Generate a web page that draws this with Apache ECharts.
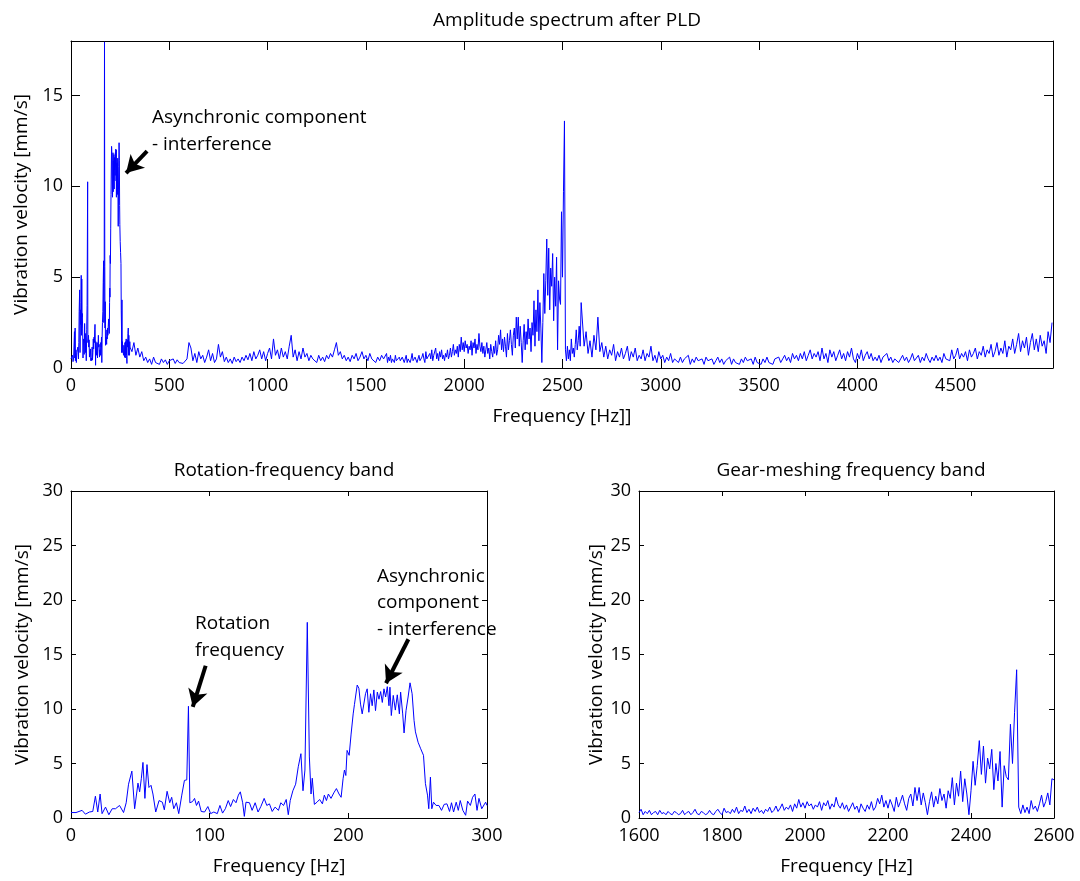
<!DOCTYPE html>
<html>
<head>
<meta charset="utf-8">
<script src="https://cdn.jsdelivr.net/npm/echarts@6/dist/echarts.min.js"></script>
<style>html,body{margin:0;padding:0;background:#fff}#c{width:1080px;height:881px}</style>
</head>
<body>
<div id="c"></div>
<script>
// ---- Data: rotation-frequency band (0-300 Hz), explicit frequencies ----
const rotHz = [0,3.6,8,10.4,13.3,15.7,17.6,19.3,21,22.4,24.9,27.3,29.7,32.1,35,37.9,39.8,41.5,43.9,45.9,48.3,49.5,50.7,51.9,53.3,54.8,56.2,57.7,59.1,61.1,63.5,65.9,67.3,69.3,71.2,72.6,74.1,76,77.7,79.9,81.8,83.5,84.7,85.7,87.6,89.1,90.5,92,93.9,96.3,98.7,100.7,103,105.5,107.4,109.3,111.3,113.4,115.1,117.1,119,120.7,122.1,123.8,125,126.2,128.7,130.6,132.8,134.9,136.9,139.3,141.2,143.1,145.1,147.2,149.6,151.3,153.3,155.2,156.7,158.1,160,162,163.9,165.8,167.3,168.7,170.4,171.9,173.1,174,175.5,177.4,179.3,181.3,182.7,184.2,185.6,187.5,189.5,191.4,193.3,194.8,196.2,197.2,198.2,199.1,200.6,202,203.5,204.4,205.4,206.4,207.6,208.8,210,211.2,212.4,213.6,214.8,216,217.2,218.4,219.6,220.9,222.1,223.3,224.5,225.7,226.9,228.1,229.3,230,231,232.4,233.9,235.3,236.8,237.7,239.2,240.2,241.6,243.1,244.5,246,247.4,248.4,250.3,252.2,254.2,255.6,257.1,258,259.2,260.2,261.4,263.3,265.3,267.2,269.1,271.1,273,274.4,275.9,277.8,279.3,280.7,282.6,284.6,286,288,289.6,291.3,292.8,294.2,296.2,297.6,299,300];
const rotAmp = [0.5,0.5,0.7,0.35,0.55,0.6,2.0,0.55,2.2,0.4,1.0,0.3,0.85,0.85,1.15,0.5,1.4,3.1,4.3,0.85,3.2,2.4,3.6,5.1,1.8,4.9,2.8,3.0,2.2,0.55,1.6,1.45,0.75,2.45,1.4,1.9,0.85,1.4,0.4,2.1,3.45,3.5,10.25,1.4,1.5,1.8,1.15,1.55,0.6,0.55,1.05,0.4,0.55,0.4,1.15,0.45,0.85,1.6,1.05,1.7,1.4,2.1,2.4,1.4,0.15,1.45,1.4,0.7,1.4,0.55,1.05,1.8,1.15,1.3,0.6,1.0,0.7,1.4,1.15,1.7,0.3,1.6,2.5,3.1,4.7,5.9,2.5,4.4,17.95,5.6,2.2,3.65,1.25,1.45,1.7,1.3,2.1,1.6,2.2,1.8,2.3,2.7,2.2,1.9,3.6,4.4,3.9,6.2,5.75,7.7,9.55,10.4,10.4,12.2,11.9,10.45,9.55,9.4,11.4,11.85,9.7,11.4,10.3,11.75,9.85,11.55,10.9,11.6,10.6,11.85,11.1,12.05,10.3,12.0,9.4,11.25,9.9,11.3,9.55,11.55,9.55,7.8,9.85,11.1,12.4,11.4,8.95,7.9,6.95,6.35,5.75,3.15,2.1,0.85,3.75,0.85,1.45,1.15,1.15,0.7,1.25,1.3,0.6,1.4,0.55,1.45,0.7,1.6,0.7,0.25,1.55,1.15,1.9,2.2,0.7,1.8,0.85,0.7,1.45,1.15];

// ---- 310-1590 Hz, 10 Hz spacing ----
const midStartHz = 310, midStepHz = 10;
const midAmp = [0.9,1.4,0.7,1.1,0.6,0.9,0.4,0.6,0.3,
0.5,0.2,0.6,0.3,0.4,0.2,0.5,0.3,0.45,0.2,
0.4,0.3,0.5,0.25,0.45,0.3,0.4,0.25,0.35,0.5,
1.4,1.1,0.4,0.8,0.3,0.9,0.5,0.7,0.3,0.6,
1.0,0.4,0.8,0.3,0.5,1.3,0.6,0.9,0.35,0.6,
0.3,0.5,0.25,0.6,0.35,0.5,0.3,0.6,0.4,0.7,
0.45,0.8,0.4,0.9,0.5,0.7,1.0,0.5,0.9,0.4,
0.8,1.1,0.5,1.6,0.7,1.0,0.5,1.1,0.6,0.9,
0.5,1.2,1.8,0.6,1.0,0.4,0.9,0.5,1.1,0.6,
0.8,0.4,0.7,0.5,0.6,0.3,0.7,0.4,0.6,0.35,
0.7,0.5,0.8,0.6,1.0,1.4,0.7,0.9,0.5,0.7,
0.4,0.6,0.35,0.7,0.5,0.8,0.4,0.6,0.9,0.5,
0.7,0.4,0.8,0.5,0.6,0.3,0.6,0.4,0.7,0.5];

// ---- gear-meshing band 1600-2595 Hz, 5 Hz spacing ----
const meshStartHz = 1600, meshStepHz = 5;
const meshAmp = [
0.5,0.8,0.3,0.6,0.4,0.7,0.3,0.5,0.6,0.3,0.7,0.4,0.5,0.3,0.6,0.4,0.3,0.6,0.5,0.3,
0.4,0.7,0.3,0.5,0.6,0.3,0.5,0.8,0.4,0.3,0.6,0.5,0.3,0.4,0.7,0.4,0.3,0.6,0.8,0.5,
0.3,0.9,0.5,0.6,0.4,0.8,0.5,1.0,0.4,0.7,0.6,1.1,0.5,0.8,0.4,0.9,0.6,1.0,0.5,0.7,
0.4,0.8,0.6,1.0,0.5,0.7,1.1,0.6,0.9,1.3,0.7,1.0,0.8,1.2,0.6,1.3,0.9,1.7,1.0,1.4,
0.9,1.5,1.1,1.3,0.8,1.2,1.0,1.5,0.7,1.4,1.1,1.6,0.8,1.3,1.0,1.9,1.2,0.9,1.4,0.8,
1.2,0.6,1.0,1.4,0.8,1.1,0.5,1.3,0.9,0.6,1.2,0.8,1.5,0.7,1.0,1.8,1.3,2.1,1.0,1.6,
0.9,1.7,1.2,0.6,1.9,1.0,1.5,2.1,1.3,0.7,1.8,2.2,1.1,2.8,1.6,2.8,1.2,2.3,1.4,0.3,
1.5,2.4,1.0,2.0,1.3,2.7,1.6,2.2,0.9,2.5,1.8,3.7,1.2,3.2,2.0,4.3,1.5,3.6,2.2,0.3,
2.5,5.2,3.0,4.8,7.1,4.0,6.6,3.2,5.5,4.5,6.3,2.6,5.0,3.4,6.1,1.0,4.8,3.8,3.5,8.6,
5.0,9.7,13.6,1.0,0.4,1.2,0.5,1.0,0.4,1.6,0.8,1.1,0.6,1.3,2.1,1.0,1.5,2.3,1.2,3.6];

// ---- 2600-4990 Hz, 10 Hz spacing ----
const highStartHz = 2600, highStepHz = 10;
const highAmp = [
3.5,1.2,2.0,0.8,1.5,0.6,1.8,1.0,2.8,0.9,
1.4,0.6,1.2,0.5,1.0,0.7,1.3,0.4,0.9,0.6,
1.1,0.5,0.8,1.2,0.4,0.9,0.6,1.1,0.4,0.7,
0.5,1.0,0.4,0.8,0.6,1.2,0.4,0.7,0.3,0.9,
0.5,0.7,0.3,0.6,0.4,0.8,0.3,0.5,0.6,0.3,
0.6,0.3,0.5,0.4,0.7,0.2,0.5,0.3,0.6,0.4,
0.3,0.5,0.2,0.6,0.4,0.3,0.5,0.2,0.4,0.6,
0.3,0.5,0.2,0.4,0.3,0.6,0.2,0.5,0.3,0.4,
0.2,0.5,0.3,0.6,0.4,0.3,0.5,0.2,0.6,0.3,
0.4,0.2,0.5,0.3,0.6,0.3,0.4,0.2,0.5,0.4,
0.6,0.3,0.5,0.7,0.4,0.6,0.3,0.8,0.5,0.7,
0.4,0.8,0.5,0.9,0.4,0.7,1.0,0.5,0.8,0.6,
0.9,0.4,1.1,0.5,0.8,0.3,1.0,0.6,0.9,0.4,
0.7,1.0,0.5,0.8,0.4,0.9,0.6,1.1,0.5,0.3,
0.8,0.5,1.0,0.4,0.7,0.9,0.5,0.8,0.4,0.6,
0.4,0.7,0.3,0.6,0.5,0.8,0.4,0.6,0.3,0.5,
0.6,0.3,0.5,0.7,0.4,0.6,0.3,0.5,0.8,0.4,
0.5,0.7,0.3,0.6,0.4,0.8,0.5,0.3,0.6,0.4,
0.7,0.4,0.6,0.3,0.8,0.5,0.6,0.4,1.0,0.5,
0.7,1.1,0.5,0.8,0.6,0.9,0.4,1.0,0.6,0.8,
1.1,0.5,0.9,0.7,1.2,0.6,1.0,0.8,1.3,0.6,
0.9,1.4,0.7,1.1,0.8,1.5,0.6,1.2,1.0,1.6,
0.8,1.3,1.9,0.9,1.5,1.1,1.7,0.7,1.4,1.9,
1.0,1.6,0.9,1.8,1.2,1.5,0.8,2.0,1.4,2.5];

// ---- ticks ----
const topXTicks = [0,500,1000,1500,2000,2500,3000,3500,4000,4500];
const topYTicks = [0,5,10,15];
const rotXTicks = [0,100,200,300];
const meshXTicks = [1600,1800,2000,2200,2400,2600];
const bandYTicks = [0,5,10,15,20,25,30];

// ---- assemble spectrum ----
const spectrum = [];
rotHz.forEach((f,i)=>spectrum.push([f, rotAmp[i]]));
midAmp.forEach((a,i)=>spectrum.push([midStartHz + i*midStepHz, a]));
meshAmp.forEach((a,i)=>spectrum.push([meshStartHz + i*meshStepHz, a]));
highAmp.forEach((a,i)=>spectrum.push([highStartHz + i*highStepHz, a]));
const rotBand = spectrum.filter(p => p[0] <= 300);
const meshBand = spectrum.filter(p => p[0] >= 1600 && p[0] <= 2600);

const FONT = '"Open Sans", "DejaVu Sans", sans-serif';
const FS = 19;     // titles, names, annotations
const TFS = 18;    // tick labels
const black = '#000';

const grids = [
  {left:71, top:41, width:982, height:327},
  {left:71, top:491, width:416, height:327},
  {left:639, top:491, width:415, height:327}
];

const plain = v => String(v);
const xAxes = [], yAxes = [];
function addAxes(gi, xmin, xmax, xt, ymax, yt, tl, xName, yNameGap){
  const common = {gridIndex:gi, type:'value', splitLine:{show:false},
    axisLine:{show:true, onZero:false, lineStyle:{color:black, width:1}}};
  xAxes.push(Object.assign({}, common, {min:xmin, max:xmax, position:'bottom',
    axisTick:{inside:true, length:tl, customValues:xt, lineStyle:{color:black}},
    axisLabel:{customValues:xt, formatter:plain, color:black, fontSize:TFS, fontFamily:FONT, margin:9},
    name:xName, nameLocation:'middle', nameGap:39,
    nameTextStyle:{color:black, fontSize:FS, fontFamily:FONT}}));
  xAxes.push(Object.assign({}, common, {min:xmin, max:xmax, position:'top',
    axisTick:{inside:true, length:tl, customValues:xt, lineStyle:{color:black}},
    axisLabel:{show:false}}));
  yAxes.push(Object.assign({}, common, {min:0, max:ymax, position:'left',
    axisTick:{inside:true, length:tl, customValues:yt, lineStyle:{color:black}},
    axisLabel:{customValues:yt, formatter:plain, color:black, fontSize:TFS, fontFamily:FONT, margin:8},
    name:'Vibration velocity [mm/s]', nameLocation:'middle', nameGap:yNameGap,
    nameTextStyle:{color:black, fontSize:FS, fontFamily:FONT}}));
  yAxes.push(Object.assign({}, common, {min:0, max:ymax, position:'right',
    axisTick:{inside:true, length:tl, customValues:yt, lineStyle:{color:black}},
    axisLabel:{show:false}}));
}
addAxes(0, 0, 4995, topXTicks, 18, topYTicks, 9, 'Frequency [Hz]]', 39);
addAxes(1, 0, 300, rotXTicks, 30, bandYTicks, 5, 'Frequency [Hz]', 39);
addAxes(2, 1600, 2600, meshXTicks, 30, bandYTicks, 5, 'Frequency [Hz]', 29);

const arrowStyle = {symbol:['none','arrow'], symbolSize:[15,17], silent:true, animation:false,
  label:{show:false}, lineStyle:{color:black, width:4, type:'solid'}};

function lineSeries(xi, data, arrows){
  const s = {type:'line', xAxisIndex:xi*2, yAxisIndex:xi*2, data:data, showSymbol:false,
    symbol:'none', sampling:null, clip:true, animation:false,
    lineStyle:{color:'#0000ff', width:1}, itemStyle:{color:'#0000ff'}};
  if (arrows) s.markLine = Object.assign({}, arrowStyle, {data: arrows});
  return s;
}

const txt = (x, y, t) => ({type:'text', left:x, top:y,
  style:{text:t, fill:black, font:FS + 'px ' + FONT}});
const titleStyle = {fontWeight:'normal', fontSize:FS, color:black, fontFamily:FONT};

const option = {
  animation:false,
  backgroundColor:'#fff',
  title:[
    {text:'Amplitude spectrum after PLD', left:562, top:6, textAlign:'center', textStyle:titleStyle},
    {text:'Rotation-frequency band', left:279, top:456, textAlign:'center', textStyle:titleStyle},
    {text:'Gear-meshing frequency band', left:846, top:456, textAlign:'center', textStyle:titleStyle}
  ],
  grid:grids,
  xAxis:xAxes,
  yAxis:yAxes,
  series:[
    lineSeries(0, spectrum, [[{coord:[387,11.94]},{coord:[280,10.73]}]]),
    lineSeries(1, rotBand, [
      [{coord:[97.1,13.97]},{coord:[87.8,10.2]}],
      [{coord:[243.3,16.4]},{coord:[227.2,12.36]}]
    ]),
    lineSeries(2, meshBand, null)
  ],
  graphic:[
    txt(152, 108, 'Asynchronic component'),
    txt(152, 135, '- interference'),
    txt(195, 614, 'Rotation'),
    txt(195, 641, 'frequency'),
    txt(377, 567, 'Asynchronic'),
    txt(377, 593, 'component'),
    txt(377, 620, '- interference')
  ]
};
const chart = echarts.init(document.getElementById('c'), null, {renderer:'canvas'});
chart.setOption(option);
</script>
</body>
</html>
